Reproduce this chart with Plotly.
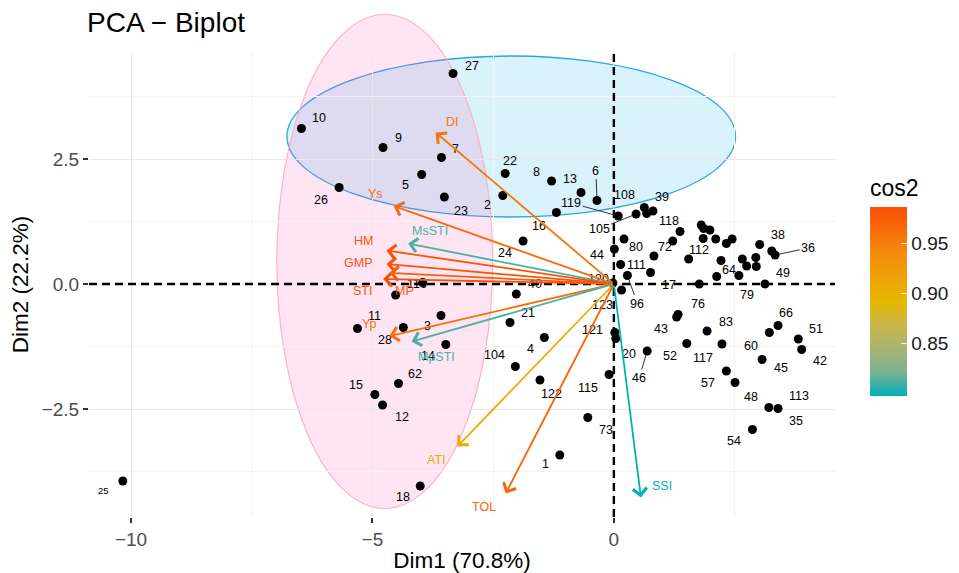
import plotly.graph_objects as go

# ---------------- data ----------------
ind_names = ["25", "10", "9", "27", "7", "5", "26", "23", "22", "2",
             "8", "13", "6", "16", "119", "105", "108", "39", "", "24",
             "44", "80", "111", "96", "123", "17", "72", "", "118", "",
             "", "", "", "", "112", "", "64", "", "", "",
             "", "", "", "", "", "38", "49", "36", "79", "76",
             "43", "83", "52", "117", "57", "48", "60", "66", "45", "51",
             "42", "113", "35", "54", "46", "121", "20", "40", "21", "4",
             "104", "122", "115", "73", "1", "18", "62", "15", "12", "3",
             "14", "28", "11", "", "116", "120"]
ind_x = [-10.17, -6.47, -4.78, -3.33, -3.57, -3.98, -5.69, -3.51, -2.25, -2.30,
         -1.29, -0.68, -0.35, -1.19, 0.09, 0.46, 0.63, 0.81, 0.68, -1.88,
         0.01, 0.21, 0.14, 0.28, 0.16, 0.76, 0.83, 1.22, 1.37, 1.81,
         1.86, 1.99, 1.85, 2.11, 1.55, 2.22, 2.13, 1.77, 2.33, 2.45,
         2.59, 2.66, 2.75, 2.94, 2.95, 3.02, 3.27, 3.34, 3.13, 1.33,
         1.30, 1.93, 1.51, 2.24, 2.33, 2.51, 3.22, 3.40, 3.07, 3.82,
         3.89, 3.21, 3.40, 2.87, 0.69, 0.02, 0.04, -2.02, -2.15, -1.44,
         -2.04, -1.53, -0.10, -0.54, -1.12, -4.01, -4.46, -4.95, -4.79, -3.58,
         -3.48, -4.36, -5.31, -4.52, -3.96, -0.02]
ind_y = [-3.94, 3.11, 2.73, 4.21, 2.53, 2.19, 1.93, 1.74, 2.21, 1.77,
         2.06, 1.83, 1.67, 1.43, 1.36, 1.40, 1.53, 1.46, 1.41, 0.86,
         0.70, 0.90, 0.39, 0.17, -0.12, 0.23, 0.56, 0.86, 1.05, 1.18,
         1.11, 1.08, 0.91, 0.90, 0.50, 0.47, 0.15, 0.00, 0.81, 0.90,
         0.17, 0.50, 0.36, 0.53, 0.35, 0.79, 0.66, 0.58, 0.00, -0.61,
         -0.66, -0.94, -1.19, -1.20, -1.74, -1.97, -0.97, -0.83, -1.51, -1.10,
         -1.31, -2.47, -2.49, -2.91, -1.34, -0.97, -1.09, -0.20, -0.77, -1.07,
         -1.65, -1.92, -1.81, -2.67, -3.42, -4.04, -1.99, -2.21, -2.42, -0.63,
         -1.21, -0.87, -0.89, -0.22, 0.03, 0.02]

var_names = ["DI", "Ys", "MsSTI", "HM", "GMP", "STI", "MP", "Yp", "MpSTI", "ATI", "TOL", "SSI"]
var_x = [-3.69, -4.56, -4.26, -4.71, -4.71, -4.78, -4.65, -4.65, -4.19, -3.24, -2.24, 0.56]
var_y = [3.03, 1.56, 0.81, 0.67, 0.40, 0.10, 0.22, -1.04, -1.15, -3.25, -4.19, -4.27]
var_cos2 = [0.955, 0.965, 0.812, 0.982, 0.984, 0.986, 0.975, 0.962, 0.812, 0.905, 0.970, 0.798]

x_tickvals = [-10, -5, 0]
x_ticktext = ["\u221210", "\u22125", "0"]
y_tickvals = [-2.5, 0, 2.5]
y_ticktext = ["\u22122.5", "0.0", "2.5"]
cbar_tickvals = [0.85, 0.90, 0.95]
cbar_ticktext = ["0.85", "0.90", "0.95"]

# group ellipses (data extents)
pink_ellipse = dict(x0=-6.98, x1=-2.51, y0=-4.49, y1=5.39)
blue_ellipse = dict(x0=-6.77, x1=2.52, y0=1.34, y1=4.56)

# ---------------- styles / layout helpers ----------------
FONT = "Liberation Sans, Arial, sans-serif"
X_RANGE = [-10.87, 4.58]
Y_RANGE = [-4.66, 4.64]

# label offsets in pixels (dx right, dy up)
label_off = {
    "25": (-19, -9), "10": (18, 11), "9": (15, 10), "27": (19, 8), "7": (14, 9),
    "5": (-16, -10), "26": (-18, -12), "23": (17, -14), "22": (5, 13), "2": (-15, -9),
    "8": (-15, 9), "13": (-11, 14), "16": (-17, -13), "108": (-20, 13), "39": (9, 14),
    "24": (-18, -12), "44": (-17, -6), "80": (12, -8), "111": (16, 0), "123": (-19, -15),
    "17": (18, -12), "72": (11, 9), "118": (-11, 11), "112": (10, 9), "64": (12, 7),
    "38": (18, 10), "49": (11, -22), "79": (-18, -11), "76": (20, 11), "43": (-16, -12),
    "83": (19, 9), "52": (-17, -12), "117": (-19, -14), "57": (-18, -12), "48": (16, -14),
    "60": (-18, -13), "66": (8, 13), "45": (19, -8), "51": (18, 10), "42": (18, -11),
    "113": (30, 12), "35": (18, -12), "54": (-18, -11), "121": (-22, 3), "20": (13, -15),
    "40": (19, 10), "21": (18, 10), "4": (-14, -11), "104": (-21, 12), "122": (12, -14),
    "115": (-21, -13), "73": (18, -12), "1": (-14, -9), "18": (-17, -11), "62": (16, 10),
    "15": (-19, 10), "12": (19, -12), "3": (-14, -10), "14": (-18, -11), "28": (-18, -12),
    "11": (17, 13), "116": (-6, -1), "120": (-14, 4),
}
# labels with leader segments: pixel offset of label (ax right, ay down)
leader_off = {"6": (-1, -30), "119": (-47, -13), "105": (-37, 15), "96": (10, 28),
              "36": (33, -7), "46": (-8, 27)}

var_label_off = {"DI": (17, 11), "Ys": (-18, 12), "MsSTI": (22, 13), "HM": (-23, 10),
                 "GMP": (-28, 1), "STI": (-21, -12), "MP": (15, -18), "Yp": (-20, 12),
                 "MpSTI": (25, -15), "ATI": (-21, -13), "TOL": (-22, -13), "SSI": (21, 12)}

cs_stops = [0.0, 0.125, 0.25, 0.375, 0.5, 0.75, 1.0]
cs_rgb = [(0, 175, 187), (121, 178, 146), (167, 180, 113), (202, 182, 75),
          (231, 184, 0), (243, 141, 14), (252, 78, 7)]
colorscale = [[s, "rgb(%d,%d,%d)" % c] for s, c in zip(cs_stops, cs_rgb)]
cmin, cmax = min(var_cos2), max(var_cos2)


def cos2_color(v):
    t = (v - cmin) / (cmax - cmin)
    t = max(0.0, min(1.0, t))
    for i in range(len(cs_stops) - 1):
        a, b = cs_stops[i], cs_stops[i + 1]
        if a <= t <= b:
            f = (t - a) / (b - a)
            c = [cs_rgb[i][k] + f * (cs_rgb[i + 1][k] - cs_rgb[i][k]) for k in range(3)]
            return "rgb(%d,%d,%d)" % tuple(round(v_) for v_ in c)
    return "rgb(%d,%d,%d)" % cs_rgb[-1]


def ypaper(v):
    return (v - Y_RANGE[0]) / (Y_RANGE[1] - Y_RANGE[0])


fig = go.Figure()

# dashed reference lines at 0 (drawn as traces, above grid, below points)
DASH = dict(color="black", width=2.4, dash="8px,5px")
fig.add_trace(go.Scatter(x=X_RANGE, y=[0, 0], mode="lines", line=DASH,
                         hoverinfo="skip", showlegend=False, cliponaxis=True))
fig.add_trace(go.Scatter(x=[0, 0], y=Y_RANGE, mode="lines", line=DASH,
                         hoverinfo="skip", showlegend=False, cliponaxis=True))

# individuals
fig.add_trace(go.Scatter(x=ind_x, y=ind_y, mode="markers",
                         marker=dict(color="black", size=9),
                         hoverinfo="skip", showlegend=False))

# dummy trace for the cos2 colorbar
fig.add_trace(go.Scatter(
    x=[None], y=[None], mode="markers", showlegend=False, hoverinfo="skip",
    marker=dict(color=[cmin], colorscale=colorscale, cmin=cmin, cmax=cmax,
                showscale=True,
                colorbar=dict(
                    title=dict(text="cos2", side="top",
                               font=dict(size=23, color="black", family=FONT)),
                    thickness=37, len=220, lenmode="pixels",
                    x=1.047, xanchor="left", xpad=0,
                    y=0.260, yanchor="bottom", ypad=0,
                    outlinewidth=0,
                    tickvals=cbar_tickvals, ticktext=cbar_ticktext,
                    ticks="inside", ticklen=6, tickcolor="rgba(255,255,255,0.8)",
                    tickfont=dict(size=19, color="#1a1a1a", family=FONT)))))

shapes = []
# blue ellipse then pink ellipse (pink may overflow panel top: y in paper coords)
shapes.append(dict(type="circle", xref="x", yref="paper",
                   x0=blue_ellipse["x0"], x1=blue_ellipse["x1"],
                   y0=ypaper(blue_ellipse["y0"]), y1=ypaper(blue_ellipse["y1"]),
                   fillcolor="rgba(0,170,230,0.15)",
                   line=dict(color="#2AA6E6", width=1.3), layer="below"))
shapes.append(dict(type="circle", xref="x", yref="paper",
                   x0=pink_ellipse["x0"], x1=pink_ellipse["x1"],
                   y0=ypaper(pink_ellipse["y0"]), y1=ypaper(pink_ellipse["y1"]),
                   fillcolor="rgba(255,80,175,0.15)",
                   line=dict(color="#FFB0C8", width=1.2), layer="below"))

annotations = []
# individual labels
for name, x, y in zip(ind_names, ind_x, ind_y):
    if not name:
        continue
    size = 9.5 if name == "25" else 12.5
    if name in leader_off:
        ax, ay = leader_off[name]
        annotations.append(dict(x=x, y=y, text=name, showarrow=True, ax=ax, ay=ay,
                                arrowhead=0, arrowwidth=1, arrowcolor="#333333",
                                standoff=4, font=dict(size=size, color="black", family=FONT)))
    else:
        dx, dy = label_off.get(name, (0, 0))
        annotations.append(dict(x=x, y=y, text=name, showarrow=False,
                                xshift=dx, yshift=dy,
                                font=dict(size=size, color="black", family=FONT)))

# variable arrows and labels
for name, x, y, c2 in zip(var_names, var_x, var_y, var_cos2):
    col = cos2_color(c2)
    annotations.append(dict(x=x, y=y, ax=0, ay=0, axref="x", ayref="y", xref="x", yref="y",
                            text="", showarrow=True, arrowhead=4, arrowsize=1.5,
                            arrowwidth=1.8, arrowcolor=col, standoff=0))
    dx, dy = var_label_off[name]
    annotations.append(dict(x=x, y=y, text=name, showarrow=False, xshift=dx, yshift=dy,
                            font=dict(size=12.5, color=col, family=FONT)))

fig.update_layout(
    width=959, height=573,
    margin=dict(l=89, r=124, t=52, b=56, autoexpand=False),
    paper_bgcolor="white", plot_bgcolor="white",
    font=dict(family=FONT),
    showlegend=False,
    title=dict(text="PCA \u2212 Biplot", x=87 / 959, xref="container", xanchor="left",
               y=1 - 22 / 573, yref="container", yanchor="middle",
               font=dict(size=28, color="black", family=FONT)),
    xaxis=dict(range=X_RANGE, tickvals=x_tickvals, ticktext=x_ticktext, automargin=False,
               showgrid=True, gridcolor="#E8E8E8", gridwidth=1.3, zeroline=False,
               minor=dict(tickvals=[-7.5, -2.5, 2.5], showgrid=True,
                          gridcolor="#F3F3F3", gridwidth=1),
               ticks="outside", ticklen=5, tickwidth=1.5, tickcolor="#333333",
               tickfont=dict(size=19, color="#4D4D4D", family=FONT),
               title=dict(text="Dim1 (70.8%)", standoff=6,
                          font=dict(size=22.5, color="black", family=FONT)),
               showline=False, fixedrange=True),
    yaxis=dict(range=Y_RANGE, tickvals=y_tickvals, ticktext=y_ticktext, automargin=False,
               showgrid=True, gridcolor="#E8E8E8", gridwidth=1.3, zeroline=False,
               minor=dict(tickvals=[-3.75, -1.25, 1.25, 3.75], showgrid=True,
                          gridcolor="#F3F3F3", gridwidth=1),
               ticks="outside", ticklen=5, tickwidth=1.5, tickcolor="#333333",
               tickfont=dict(size=19, color="#4D4D4D", family=FONT),
               title=dict(text="Dim2 (22.2%)", standoff=6,
                          font=dict(size=22.5, color="black", family=FONT)),
               showline=False, fixedrange=True),
    shapes=shapes,
    annotations=annotations,
)

fig.write_html("out.html", config={"displayModeBar": False},
               post_script="document.body.style.margin='0';document.body.style.overflow='hidden';")
